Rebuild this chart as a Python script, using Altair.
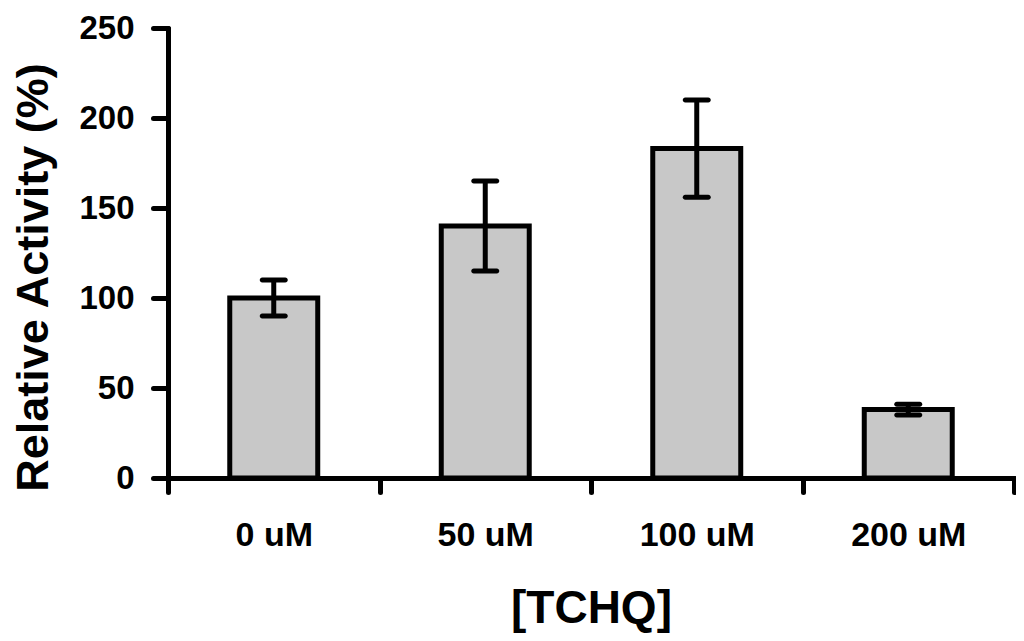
import altair as alt
import pandas as pd

categories = ["0 uM", "50 uM", "100 uM", "200 uM"]
activity = [100, 140, 183, 38]
err_low = [90, 115, 156, 35]
err_high = [110, 165, 210, 41]
y_ticks = [0, 50, 100, 150, 200, 250]

df = pd.DataFrame({"conc": categories, "activity": activity, "lo": err_low, "hi": err_high})

W, H = 846, 450
FONT = "Liberation Sans"

x_enc = alt.X(
    "conc:N",
    sort=categories,
    scale=alt.Scale(paddingInner=0, paddingOuter=0),
    axis=alt.Axis(
        title="[TCHQ]",
        labelAngle=0,
        tickBand="extent",
        domainColor="black", domainWidth=5, domainCap="round",
        tickColor="black", tickWidth=5, tickSize=14, tickCap="round",
        labelFont=FONT, labelFontSize=34, labelFontWeight="bold", labelColor="black",
        labelPadding=26, labelBaseline="top",
        titleFont=FONT, titleFontSize=46, titleFontWeight="bold", titleColor="black",
        titleX=W / 2, titleY=144, titleAlign="center", titleBaseline="alphabetic",
    ),
)

y_scale = alt.Scale(domain=[0, 250], nice=False)
y_axis = alt.Axis(
    title="Relative Activity (%)",
    values=y_ticks,
    grid=False,
    domainColor="black", domainWidth=5, domainCap="round",
    tickColor="black", tickWidth=5, tickSize=15, tickCap="round",
    labelFont=FONT, labelFontSize=33, labelFontWeight="bold", labelColor="black",
    labelPadding=19,
    titleFont=FONT, titleFontSize=45, titleFontWeight="bold", titleColor="black",
    titleAngle=270, titleX=-121, titleY=249, titleAlign="center", titleBaseline="alphabetic",
)

base = alt.Chart(df)

bars = base.mark_bar(
    width=alt.RelativeBandSize(0.416), fill="#c8c8c8", stroke="black", strokeWidth=5
).encode(
    x=x_enc,
    y=alt.Y("activity:Q", scale=y_scale, axis=y_axis),
)

err_line = base.mark_rule(color="black", strokeWidth=5).encode(
    x=alt.X("conc:N", sort=categories),
    y=alt.Y("lo:Q", scale=y_scale),
    y2="hi:Q",
)

cap_hi = base.mark_tick(color="black", orient="horizontal", size=28, thickness=5,
                        opacity=1, cornerRadius=2.5).encode(
    x=alt.X("conc:N", sort=categories),
    y=alt.Y("hi:Q", scale=y_scale),
)
cap_lo = base.mark_tick(color="black", orient="horizontal", size=28, thickness=5,
                        opacity=1, cornerRadius=2.5).encode(
    x=alt.X("conc:N", sort=categories),
    y=alt.Y("lo:Q", scale=y_scale),
)

chart = alt.layer(bars, err_line, cap_hi, cap_lo).properties(
    width=W,
    height=H,
    autosize=alt.AutoSizeParams(type="none"),
    padding={"left": 160, "top": 20, "right": 2, "bottom": 155},
    background="white",
).configure_view(stroke=None)

chart.save("out.html", embed_options={"renderer": "svg", "actions": False})
